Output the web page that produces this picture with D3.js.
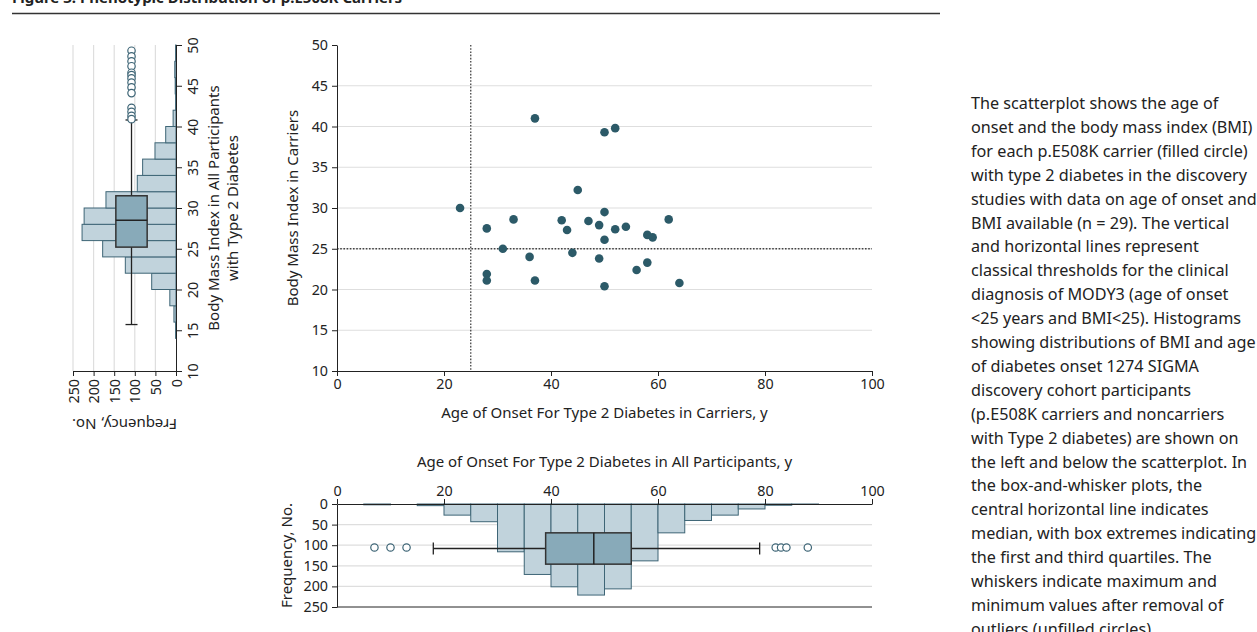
<!DOCTYPE html>
<html>
<head>
<meta charset="utf-8">
<script src="https://cdn.jsdelivr.net/npm/d3@7"></script>
<style>
  body { margin: 0; background: #fff; }
  svg { display: block; font-family: "Noto Sans", Lato, sans-serif; }
  .axis text { font-size: 14.3px; fill: #222; font-family: "Noto Sans", Lato, sans-serif; }
  .axis path, .axis line { stroke: #222; }
  .ttl { font-size: 15px; fill: #222; }
</style>
</head>
<body>
<script>
// scatter: p.E508K carriers with type 2 diabetes (n = 29)
const carrierAge = [37, 50, 52, 45, 23, 50, 33, 42, 47, 49, 28, 43, 52, 54, 50, 31, 36, 44, 49, 28, 28, 37, 50, 62, 58, 59, 56, 58, 64];
const carrierBmi = [41.0, 39.3, 39.8, 32.2, 30.0, 29.5, 28.6, 28.5, 28.4, 27.9, 27.5, 27.3, 27.4, 27.7, 26.1, 25.0, 24.0, 24.5, 23.8, 21.9, 21.1, 21.1, 20.4, 28.6, 26.7, 26.4, 22.4, 23.3, 20.8];

// BMI histogram, all participants (bins of 2)
const bmiBins = [14, 16, 18, 20, 22, 24, 26, 28, 30, 32, 34, 36, 38, 40, 42, 44, 46, 48];
const bmiCounts = [1, 5, 15, 59, 123, 178, 228, 223, 170, 94, 81, 51, 25, 7, 1, 2, 3, 1];
const bmiBox = [15.7, 25.2, 28.5, 31.5, 40.8]; // low whisker, q1, median, q3, high whisker
const bmiOutliers = [49.3, 48.6, 48.0, 47.4, 46.6, 46.3, 45.9, 45.4, 44.8, 44.1, 42.3, 41.8, 41.3, 40.9];

// age of onset histogram, all participants (bins of 5)
const ageBins = [5, 10, 15, 20, 25, 30, 35, 40, 45, 50, 55, 60, 65, 70, 75, 80, 85];
const ageCounts = [2, 0, 4, 27, 43, 116, 171, 201, 221, 206, 138, 70, 40, 27, 12, 3, 1];
const ageBox = [18, 39, 48, 55, 79];
const ageOutliers = [7, 10, 13, 82, 83, 84, 88];

const bmiTicks = [10, 15, 20, 25, 30, 35, 40, 45, 50];
const ageTicks = [0, 20, 40, 60, 80, 100];
const freqTicks = [0, 50, 100, 150, 200, 250];
const boxAt = 108, boxHalf = 38; // where the box sits on the frequency axis

const bodyText = [
  "The scatterplot shows the age of",
  "onset and the body mass index (BMI)",
  "for each p.E508K carrier (filled circle)",
  "with type 2 diabetes in the discovery",
  "studies with data on age of onset and",
  "BMI available (n = 29). The vertical",
  "and horizontal lines represent",
  "classical thresholds for the clinical",
  "diagnosis of MODY3 (age of onset",
  "<25 years and BMI<25). Histograms",
  "showing distributions of BMI and age",
  "of diabetes onset 1274 SIGMA",
  "discovery cohort participants",
  "(p.E508K carriers and noncarriers",
  "with Type 2 diabetes) are shown on",
  "the left and below the scatterplot. In",
  "the box-and-whisker plots, the",
  "central horizontal line indicates",
  "median, with box extremes indicating",
  "the first and third quartiles. The",
  "whiskers indicate maximum and",
  "minimum values after removal of",
  "outliers (unfilled circles)."
];

const barFill = "#c1d3dc", barStroke = "#3e6576", boxFill = "#88aab9", dotFill = "#2c5a68", grid = "#dedede";

const svg = d3.select("body").append("svg").attr("width", 1257).attr("height", 632);

// title (cut off at top) and rule
svg.append("text").attr("x", 12).attr("y", 3)
  .style("font-size", "15px").style("font-weight", "bold").attr("fill", "#222")
  .text("Figure 3. Phenotypic Distribution of p.E508K Carriers");
svg.append("line").attr("x1", 12).attr("x2", 940).attr("y1", 13.5).attr("y2", 13.5)
  .attr("stroke", "#333").attr("stroke-width", 1.3);

// shared scales
var x = d3.scaleLinear().domain([0, 100]).range([337, 872]);
var yB = d3.scaleLinear().domain([10, 50]).range([371, 45]);
var fL = d3.scaleLinear().domain([0, 250]).range([176, 73]);   // left histogram frequency
var fB = d3.scaleLinear().domain([0, 250]).range([504, 607]);  // bottom histogram frequency

// ---------- scatter ----------
var sc = svg.append("g");
sc.selectAll(".g").data(bmiTicks.filter(d => d > 10 && d < 50)).enter().append("line")
  .attr("x1", x(0)).attr("x2", x(100)).attr("y1", d => yB(d)).attr("y2", d => yB(d))
  .attr("stroke", grid).attr("stroke-width", 1.2);
sc.append("line").attr("x1", x(25)).attr("x2", x(25)).attr("y1", yB(50)).attr("y2", yB(10))
  .attr("stroke", "#444").attr("stroke-width", 1.3).attr("stroke-dasharray", "1.6,1.6");
sc.append("line").attr("x1", x(0)).attr("x2", x(100)).attr("y1", yB(25)).attr("y2", yB(25))
  .attr("stroke", "#444").attr("stroke-width", 1.3).attr("stroke-dasharray", "1.6,1.6");
sc.selectAll("circle").data(carrierAge).enter().append("circle")
  .attr("cx", (d, i) => x(d)).attr("cy", (d, i) => yB(carrierBmi[i]))
  .attr("r", 4.3).attr("fill", dotFill);
sc.append("g").attr("class", "axis").attr("transform", "translate(" + x(0) + ",0)")
  .call(d3.axisLeft(yB).tickValues(bmiTicks).tickSize(5).tickPadding(4).tickSizeOuter(0));
sc.append("g").attr("class", "axis").attr("transform", "translate(0," + yB(10) + ")")
  .call(d3.axisBottom(x).tickValues(ageTicks).tickSize(5).tickPadding(3).tickSizeOuter(0));
sc.append("text").attr("class", "ttl").attr("transform", "translate(298," + yB(30) + ") rotate(-90)")
  .attr("text-anchor", "middle")
  .text("Body Mass Index in Carriers");
sc.append("text").attr("class", "ttl").attr("x", x(50)).attr("y", 418).attr("text-anchor", "middle")
  .text("Age of Onset For Type 2 Diabetes in Carriers, y");

// ---------- left histogram (BMI) ----------
var lh = svg.append("g");
lh.selectAll(".g").data(freqTicks.filter(d => d > 0)).enter().append("line")
  .attr("x1", d => fL(d)).attr("x2", d => fL(d)).attr("y1", yB(50)).attr("y2", yB(10))
  .attr("stroke", grid).attr("stroke-width", 1.2);
lh.selectAll("rect.bar").data(bmiBins).enter().append("rect").attr("class", "bar")
  .attr("x", (d, i) => fL(bmiCounts[i])).attr("width", (d, i) => fL(0) - fL(bmiCounts[i]))
  .attr("y", d => yB(d + 2)).attr("height", d => yB(d) - yB(d + 2))
  .attr("fill", barFill).attr("stroke", barStroke).attr("stroke-width", 1);
lh.append("line").attr("x1", fL(boxAt)).attr("x2", fL(boxAt)).attr("y1", yB(bmiBox[0])).attr("y2", yB(bmiBox[4]))
  .attr("stroke", "#222").attr("stroke-width", 1.3);
lh.selectAll(".cap").data([bmiBox[0], bmiBox[4]]).enter().append("line")
  .attr("x1", fL(boxAt) - 6).attr("x2", fL(boxAt) + 6).attr("y1", d => yB(d)).attr("y2", d => yB(d))
  .attr("stroke", "#222").attr("stroke-width", 1.3);
lh.append("rect").attr("x", fL(boxAt + boxHalf)).attr("width", fL(boxAt - boxHalf) - fL(boxAt + boxHalf))
  .attr("y", yB(bmiBox[3])).attr("height", yB(bmiBox[1]) - yB(bmiBox[3]))
  .attr("fill", boxFill).attr("stroke", "#333").attr("stroke-width", 1.5);
lh.append("line").attr("x1", fL(boxAt + boxHalf)).attr("x2", fL(boxAt - boxHalf))
  .attr("y1", yB(bmiBox[2])).attr("y2", yB(bmiBox[2])).attr("stroke", "#222").attr("stroke-width", 1.5);
lh.selectAll("circle").data(bmiOutliers).enter().append("circle")
  .attr("cx", fL(boxAt)).attr("cy", d => yB(d)).attr("r", 3.7)
  .attr("fill", "#fff").attr("stroke", barStroke).attr("stroke-width", 1.2);
var ly = lh.append("g").attr("class", "axis").attr("transform", "translate(" + fL(0) + ",0)")
  .call(d3.axisRight(yB).tickValues(bmiTicks).tickSize(6).tickSizeOuter(0));
ly.selectAll("text").attr("x", null).attr("dy", null).attr("text-anchor", "middle")
  .attr("transform", "translate(21,0) rotate(-90)").attr("y", 0).attr("dy", "0.1em");
var lx = lh.append("g").attr("class", "axis").attr("transform", "translate(0," + yB(10) + ")")
  .call(d3.axisBottom(fL).tickValues(freqTicks).tickSize(5).tickSizeOuter(0));
lx.selectAll("text").attr("y", null).attr("dy", null).attr("text-anchor", "end")
  .attr("transform", "translate(0,8) rotate(-90)").attr("x", 0).attr("y", 0).attr("dy", "0.36em");
lh.append("text").attr("class", "ttl").attr("transform", "translate(219," + yB(30) + ") rotate(-90)")
  .attr("text-anchor", "middle")
  .text("Body Mass Index in All Participants");
lh.append("text").attr("class", "ttl").attr("transform", "translate(238," + yB(30) + ") rotate(-90)")
  .attr("text-anchor", "middle")
  .text("with Type 2 Diabetes");
lh.append("text").attr("class", "ttl").attr("transform", "translate(" + fL(125) + ",419) rotate(180)")
  .attr("text-anchor", "middle")
  .text("Frequency, No.");

// ---------- bottom histogram (age of onset) ----------
var bh = svg.append("g");
bh.selectAll(".g").data(freqTicks.filter(d => d > 0 && d < 250)).enter().append("line")
  .attr("x1", x(0)).attr("x2", x(100)).attr("y1", d => fB(d)).attr("y2", d => fB(d))
  .attr("stroke", grid).attr("stroke-width", 1.2);
bh.append("line").attr("x1", x(0)).attr("x2", x(100)).attr("y1", fB(250)).attr("y2", fB(250))
  .attr("stroke", "#222").attr("stroke-width", 1);
bh.selectAll("rect.bar").data(ageBins).enter().append("rect").attr("class", "bar")
  .attr("x", d => x(d)).attr("width", d => x(d + 5) - x(d))
  .attr("y", fB(0)).attr("height", (d, i) => fB(ageCounts[i]) - fB(0))
  .attr("fill", barFill).attr("stroke", barStroke).attr("stroke-width", 1);
bh.append("line").attr("x1", x(ageBox[0])).attr("x2", x(ageBox[4])).attr("y1", fB(boxAt)).attr("y2", fB(boxAt))
  .attr("stroke", "#222").attr("stroke-width", 1.3);
bh.selectAll(".cap").data([ageBox[0], ageBox[4]]).enter().append("line")
  .attr("x1", d => x(d)).attr("x2", d => x(d)).attr("y1", fB(boxAt) - 6).attr("y2", fB(boxAt) + 6)
  .attr("stroke", "#222").attr("stroke-width", 1.3);
bh.append("rect").attr("x", x(ageBox[1])).attr("width", x(ageBox[3]) - x(ageBox[1]))
  .attr("y", fB(boxAt - boxHalf)).attr("height", fB(boxAt + boxHalf) - fB(boxAt - boxHalf))
  .attr("fill", boxFill).attr("stroke", "#333").attr("stroke-width", 1.5);
bh.append("line").attr("x1", x(ageBox[2])).attr("x2", x(ageBox[2]))
  .attr("y1", fB(boxAt - boxHalf)).attr("y2", fB(boxAt + boxHalf)).attr("stroke", "#222").attr("stroke-width", 1.5);
bh.selectAll("circle").data(ageOutliers).enter().append("circle")
  .attr("cx", d => x(d)).attr("cy", fB(boxAt) - 1).attr("r", 3.7)
  .attr("fill", "#fff").attr("stroke", barStroke).attr("stroke-width", 1.2);
bh.append("g").attr("class", "axis").attr("transform", "translate(0," + fB(0) + ")")
  .call(d3.axisTop(x).tickValues(ageTicks).tickSize(5).tickPadding(3).tickSizeOuter(0));
bh.append("g").attr("class", "axis").attr("transform", "translate(" + x(0) + ",0)")
  .call(d3.axisLeft(fB).tickValues(freqTicks).tickSize(5).tickPadding(4).tickSizeOuter(0));
bh.append("text").attr("class", "ttl").attr("x", x(50)).attr("y", 467).attr("text-anchor", "middle")
  .text("Age of Onset For Type 2 Diabetes in All Participants, y");
bh.append("text").attr("class", "ttl").attr("transform", "translate(292," + fB(125) + ") rotate(-90)")
  .attr("text-anchor", "middle")
  .text("Frequency, No.");

// ---------- caption on the right ----------
svg.append("g").selectAll("text").data(bodyText).enter().append("text")
  .attr("x", 971).attr("y", (d, i) => 109 + i * 23.9)
  .style("font-size", "16.2px").attr("fill", "#222")
  .text(d => d);
</script>
</body>
</html>
